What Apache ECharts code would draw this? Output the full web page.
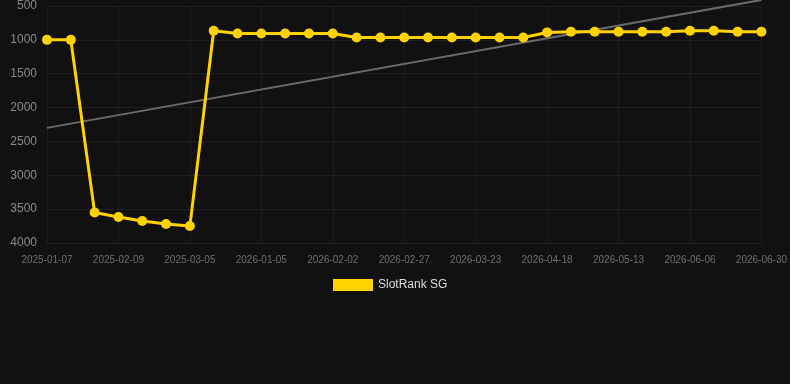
<!DOCTYPE html>
<html>
<head>
<meta charset="utf-8">
<style>
  html, body { margin: 0; padding: 0; background: #111111; }
  #main { width: 790px; height: 384px; }
</style>
<script src="https://cdn.jsdelivr.net/npm/echarts@6/dist/echarts.min.js"></script>
</head>
<body>
<div id="main"></div>
<script>
  // dates on the x axis (every third one is labelled)
  var dates = [
    '2025-01-07', '2025-01-18', '2025-01-29', '2025-02-09', '2025-02-17', '2025-02-25',
    '2025-03-05', '2025-12-14', '2025-12-25', '2026-01-05', '2026-01-14', '2026-01-24',
    '2026-02-02', '2026-02-10', '2026-02-19', '2026-02-27', '2026-03-07', '2026-03-15',
    '2026-03-23', '2026-03-31', '2026-04-09', '2026-04-18', '2026-04-26', '2026-05-05',
    '2026-05-13', '2026-05-21', '2026-05-29', '2026-06-06', '2026-06-14', '2026-06-22',
    '2026-06-30'
  ];
  // rank values (lower is better, axis is inverted)
  var ranks = [
    1000, 1000, 3550, 3615, 3675, 3720, 3750, 865, 905, 905, 905, 905, 905,
    965, 965, 965, 965, 965, 965, 965, 965,
    890, 880, 880, 880, 880, 880, 865, 865, 880, 880
  ];
  // trend line, start and end values
  var trendStart = 2300;
  var trendEnd = 410;
  var yTicks = [500, 4000, 500]; // min, max, interval

  var trend = dates.map(function (d, i) {
    if (i === 0) return trendStart;
    if (i === dates.length - 1) return trendEnd;
    return null;
  });

  var myChart = echarts.init(document.getElementById('main'));

  var option = {
    backgroundColor: '#111111',
    animation: false,
    grid: { left: 47, right: 28, top: 6, bottom: 141 },
    legend: {
      bottom: 88,
      left: 328,
      itemWidth: 40,
      itemHeight: 12,
      icon: 'rect',
      textStyle: { color: '#dddddd', fontSize: 12 },
      data: ['SlotRank SG']
    },
    xAxis: {
      type: 'category',
      boundaryGap: false,
      data: dates,
      axisLine: { show: false },
      axisTick: { show: false },
      axisLabel: { color: '#6f6f6f', fontSize: 10, interval: 2, margin: 12 },
      splitLine: { show: true, interval: 2, lineStyle: { color: '#1c1c1c' } }
    },
    yAxis: {
      type: 'value',
      inverse: true,
      min: yTicks[0],
      max: yTicks[1],
      interval: yTicks[2],
      axisLine: { show: false },
      axisTick: { show: false },
      axisLabel: {
        color: '#8a8a8a',
        fontSize: 12,
        margin: 10,
        formatter: function (v) { return String(v); }
      },
      splitLine: { lineStyle: { color: '#1f1f1f' } }
    },
    series: [
      {
        name: 'trend',
        type: 'line',
        data: trend,
        connectNulls: true,
        showSymbol: false,
        clip: false,
        silent: true,
        lineStyle: { color: '#6a6a6a', width: 2 },
        z: 1
      },
      {
        name: 'SlotRank SG',
        type: 'line',
        data: ranks,
        symbol: 'circle',
        symbolSize: 10,
        itemStyle: { color: '#ffd200' },
        lineStyle: { color: '#ffd200', width: 3 },
        z: 2
      }
    ]
  };

  myChart.setOption(option);
</script>
</body>
</html>
